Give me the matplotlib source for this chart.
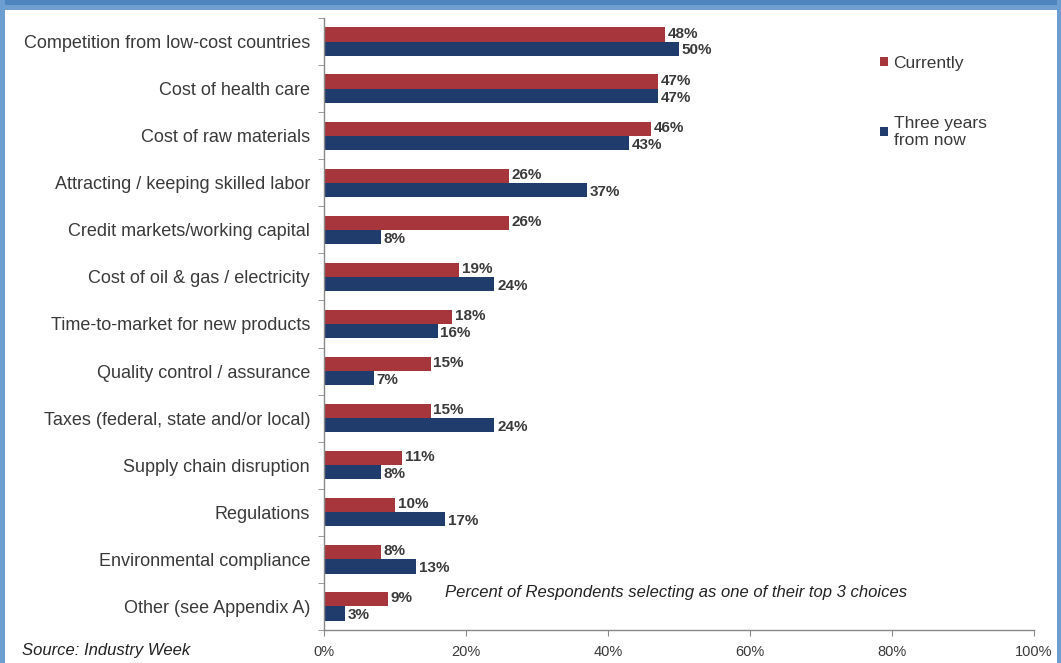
import matplotlib
matplotlib.use("Agg")
import matplotlib.pyplot as plt
from matplotlib.patches import Patch, Rectangle
import numpy as np

plt.rcParams['font.family'] = ['Liberation Sans', 'DejaVu Sans']

categories = [
    "Competition from low-cost countries",
    "Cost of health care",
    "Cost of raw materials",
    "Attracting / keeping skilled labor",
    "Credit markets/working capital",
    "Cost of oil & gas / electricity",
    "Time-to-market for new products",
    "Quality control / assurance",
    "Taxes (federal, state and/or local)",
    "Supply chain disruption",
    "Regulations",
    "Environmental compliance",
    "Other (see Appendix A)",
]
currently = [48, 47, 46, 26, 26, 19, 18, 15, 15, 11, 10, 8, 9]
three_years = [50, 47, 43, 37, 8, 24, 16, 7, 24, 8, 17, 13, 3]
xticks = [0, 20, 40, 60, 80, 100]
series_names = ["Currently", "Three years\nfrom now"]

RED = "#a6363c"
BLUE = "#1f3c6c"
TEXT = "#3a3a3a"

W, H = 1061, 663
fig = plt.figure(figsize=(W / 100, H / 100), dpi=100)
fig.patch.set_facecolor("white")

# blue frame of the slide around the chart
frame = fig.add_axes([0, 0, 1, 1], zorder=-5)
frame.set_xlim(0, W)
frame.set_ylim(H, 0)
frame.axis("off")
frame.add_patch(Rectangle((0, 0), W, 10, color="#6f9fcf", lw=0))
frame.add_patch(Rectangle((0, 0), W, 5, color="#4f85bf", lw=0))
frame.add_patch(Rectangle((0, 0), 5, H, color="#6d9ed2", lw=0))
frame.add_patch(Rectangle((W - 4, 0), 4, H, color="#6d9ed2", lw=0))

ax = fig.add_axes([324 / W, 1 - 630 / H, (1034 - 324) / W, (630 - 18) / H])
ax.set_facecolor("none")

n = len(categories)
y = np.arange(n)
bh = 0.3
ax.barh(y - bh / 2, currently, height=bh, color=RED, edgecolor="none")
ax.barh(y + bh / 2, three_years, height=bh, color=BLUE, edgecolor="none")

for yi, v in zip(y, currently):
    ax.text(v + 0.4, yi - bh / 2 - 0.02, f"{v}%", va="center", ha="left",
            fontsize=11, fontweight="bold", color=TEXT)
for yi, v in zip(y, three_years):
    ax.text(v + 0.4, yi + bh / 2 + 0.04, f"{v}%", va="center", ha="left",
            fontsize=11, fontweight="bold", color=TEXT)

ax.set_ylim(n - 0.5, -0.5)
ax.set_xlim(0, 100)
ax.set_yticks(y)
ax.set_yticklabels(categories, fontsize=13, color=TEXT)
ax.set_yticks(np.arange(-0.5, n, 1.0), minor=True)
ax.tick_params(axis="y", which="major", length=0, pad=10)
ax.tick_params(axis="y", which="minor", length=4, color="#888888", direction="out")
ax.set_xticks(xticks)
ax.set_xticklabels([f"{t}%" for t in xticks], fontsize=10.5, color=TEXT)
ax.tick_params(axis="x", length=4, color="#888888", direction="out", pad=7)

for s in ["top", "right"]:
    ax.spines[s].set_visible(False)
for s in ["left", "bottom"]:
    ax.spines[s].set_color("#888888")
    ax.spines[s].set_linewidth(1.0)

handles = [Patch(facecolor=RED), Patch(facecolor=BLUE)]
leg = fig.legend(handles, series_names, loc="upper left",
                 bbox_to_anchor=(864 / W, 1 - 40 / H), frameon=False,
                 fontsize=12.5, labelcolor=TEXT, handlelength=0.5,
                 handleheight=0.5, handletextpad=0.3, labelspacing=2.6)
for t in leg.get_texts():
    t.set_linespacing(1.15)

fig.text(445 / W, 1 - 593 / H,
         "Percent of Respondents selecting as one of their top 3 choices",
         fontsize=12, style="italic", color="#222222", va="center", ha="left")
fig.text(22 / W, 1 - 650 / H, "Source: Industry Week",
         fontsize=12, style="italic", color="#222222", va="center", ha="left")

fig.savefig("out.png", dpi=100, facecolor=fig.get_facecolor())
